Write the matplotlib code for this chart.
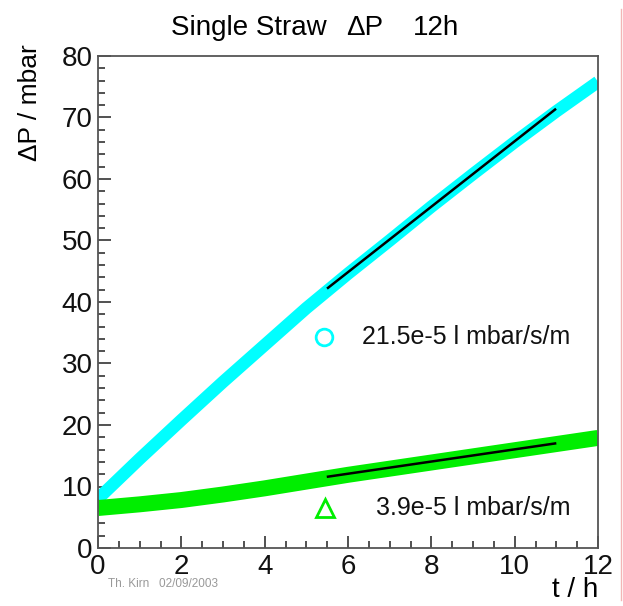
# Single straw pressure rise, 12h run
import matplotlib
matplotlib.use("Agg")
import matplotlib.pyplot as plt
from matplotlib.ticker import MultipleLocator
from matplotlib.lines import Line2D

plt.rcParams['font.family'] = ['Liberation Sans', 'DejaVu Sans']

# data
t_hours = [0, 1, 2, 3, 4, 5, 6, 7, 8, 9, 10, 11, 12]
dp_cyan = [8.0, 14.5, 20.8, 27.0, 33.0, 39.0, 44.6, 50.0, 55.5, 60.8, 66.0, 71.0, 75.8]
dp_green = [6.5, 7.1, 7.8, 8.7, 9.7, 10.8, 11.9, 12.9, 13.9, 14.9, 15.9, 16.9, 17.9]

fit_t = [5.52, 10.97]
fit_cyan = [42.3, 71.3]
fit_green = [11.6, 17.0]

leak_labels = ["21.5e-5 l mbar/s/m", "3.9e-5 l mbar/s/m"]

W, H = 623, 606
fig = plt.figure(figsize=(W / 100, H / 100), dpi=100)
ax = fig.add_axes([98 / W, 1 - 548 / H, 500 / W, 492 / H])

ax.plot(t_hours, dp_cyan, color='#00ffff', lw=9, solid_capstyle='butt')
ax.plot(t_hours, dp_green, color='#00ee00', lw=11.5, solid_capstyle='butt')
ax.plot(fit_t, fit_cyan, color='black', lw=1.8)
ax.plot(fit_t, fit_green, color='black', lw=1.8)

# legend-like annotations
ax.plot([5.42], [34.3], marker='o', ms=12, mfc='none', mec='#00ffff', mew=2, clip_on=False)
ax.plot([5.45], [6.5], marker='^', ms=13, mfc='none', mec='#00ee00', mew=2, clip_on=False)
ax.text(11.33, 34.3, leak_labels[0], ha='right', va='center', fontsize=18, color='#111111')
ax.text(11.33, 6.5, leak_labels[1], ha='right', va='center', fontsize=18, color='#111111')

ax.set_xlim(0, 12)
ax.set_ylim(0, 80)
ax.xaxis.set_major_locator(MultipleLocator(2))
ax.xaxis.set_minor_locator(MultipleLocator(0.5))
ax.yaxis.set_major_locator(MultipleLocator(10))
ax.yaxis.set_minor_locator(MultipleLocator(2))
ax.tick_params(which='both', direction='in', top=False, right=False, labelsize=20,
               colors='#333333', labelcolor='#111111')
ax.tick_params(which='major', length=9, width=1.2, pad=4)
ax.tick_params(which='minor', length=5, width=1.2)
for s in ax.spines.values():
    s.set_color('#555555')
    s.set_linewidth(1.3)

# title in three pieces, spaced as in the original
ty = 1 - 28 / H
fig.text(171 / W, ty, "Single Straw", ha='left', va='center', fontsize=20)
fig.text(346 / W, ty, "\u0394P", ha='left', va='center', fontsize=20)
fig.text(413 / W, ty, "12h", ha='left', va='center', fontsize=20)

fig.text(30 / W, 1 - 44 / H, "\u0394P / mbar", rotation=90, ha='center', va='top', fontsize=19)
fig.text(598 / W, 1 - 590 / H, "t / h", ha='right', va='center', fontsize=20)
fig.text(108 / W, 1 - 584 / H, "Th. Kirn   02/09/2003", ha='left', va='center', fontsize=8.5, color='#999999')

# faint border line on the right edge of the original page
fig.add_artist(Line2D([0.997, 0.997], [0.01, 0.985], transform=fig.transFigure, color='#f2b5b5', lw=1))

fig.savefig("out.png", dpi=100)
